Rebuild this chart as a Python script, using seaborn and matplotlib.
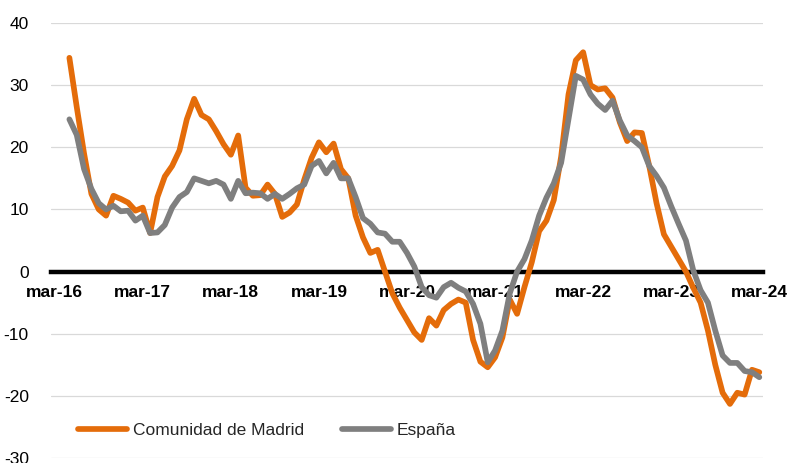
import matplotlib
matplotlib.use('Agg')
import matplotlib.pyplot as plt
import seaborn as sns
import pandas as pd

# month index: 0 = mar-16, series start in may-16 (index 2)
start_month = 2
tick_months = [0, 12, 24, 36, 48, 60, 72, 84, 96]
tick_labels = ['mar-16', 'mar-17', 'mar-18', 'mar-19', 'mar-20',
               'mar-21', 'mar-22', 'mar-23', 'mar-24']

madrid = [34.4, 26.5, 19.0, 12.5, 10.0, 9.0, 12.2, 11.7, 11.1, 9.8,
          10.3, 6.2, 12.0, 15.3, 17.0, 19.5, 24.5, 27.8, 25.2, 24.5,
          22.6, 20.5, 18.8, 21.9, 13.5, 12.2, 12.3, 14.0, 12.5, 8.8,
          9.5, 10.8, 14.8, 18.3, 20.8, 19.2, 20.6, 16.5, 15.0, 9.0,
          5.5, 3.0, 3.5, 0.0, -3.5, -5.8, -7.8, -9.8, -11.0, -7.5,
          -8.7, -6.2, -5.2, -4.5, -5.0, -11.0, -14.5, -15.4, -13.8, -10.6,
          -4.5, -6.8, -2.5, 1.5, 6.5, 8.2, 11.5, 18.5, 28.5, 34.0,
          35.3, 30.0, 29.3, 29.5, 28.0, 24.0, 21.0, 22.4, 22.3, 17.0,
          11.0, 6.0, 4.0, 2.0, 0.0, -2.6, -5.0, -9.5, -15.0, -19.5,
          -21.3, -19.5, -19.8, -15.8, -16.2]

espana = [24.5, 22.0, 16.5, 13.3, 11.0, 10.0, 10.6, 9.7, 9.8, 8.2,
          9.0, 6.2, 6.3, 7.5, 10.3, 12.0, 12.8, 15.0, 14.6, 14.2,
          14.6, 14.0, 11.7, 14.6, 12.6, 12.7, 12.6, 11.7, 12.5, 11.7,
          12.5, 13.4, 14.0, 17.0, 17.8, 15.8, 17.5, 15.0, 15.0, 12.0,
          8.6, 7.7, 6.3, 6.1, 4.8, 4.8, 3.0, 0.8, -2.5, -3.8,
          -4.2, -2.5, -1.8, -2.6, -3.2, -5.2, -8.4, -14.6, -12.7, -9.5,
          -3.5, 0.0, 2.0, 5.0, 9.0, 11.9, 14.2, 17.5, 24.5, 31.5,
          30.9, 28.5, 27.0, 26.0, 27.5, 24.3, 21.9, 21.0, 20.0, 17.0,
          15.4, 13.5, 10.5, 7.7, 5.0, 0.2, -3.0, -5.0, -9.5, -13.5,
          -14.7, -14.7, -16.0, -16.2, -17.0]

months = list(range(start_month, start_month + len(madrid)))
df = pd.DataFrame({'mes': months, 'Comunidad de Madrid': madrid, 'España': espana})

sns.set_theme(style='white')
plt.rcParams['font.family'] = ['Liberation Sans', 'DejaVu Sans']
plt.rcParams['axes.unicode_minus'] = False

fig = plt.figure(figsize=(7.9, 4.63), dpi=100)
ax = fig.add_axes([0.0646, 0.0108, 0.9012, 0.9395])

sns.lineplot(data=df, x='mes', y='Comunidad de Madrid', color='#E46C0A',
             linewidth=4.1, label='Comunidad de Madrid', ax=ax, zorder=3,
             solid_capstyle='round', solid_joinstyle='round')
sns.lineplot(data=df, x='mes', y='España', color='#7F7F7F',
             linewidth=4.1, label='España', ax=ax, zorder=4,
             solid_capstyle='round', solid_joinstyle='round')

ax.set_xlim(-0.5, 96.5)
ax.set_ylim(-30, 40)
ax.set_yticks(range(-30, 41, 10))
ax.set_xticks(tick_months)
ax.set_xticklabels(tick_labels)
ax.set_xlabel('')
ax.set_ylabel('')

ax.grid(axis='y', color='#D9D9D9', linewidth=0.9)
ax.grid(axis='x', visible=False)
for s in ['top', 'right', 'left']:
    ax.spines[s].set_visible(False)
ax.spines['bottom'].set_position(('data', 0))
ax.spines['bottom'].set_color('black')
ax.spines['bottom'].set_linewidth(3.2)
ax.spines['bottom'].set_zorder(2.6)

ax.tick_params(axis='x', length=0, pad=10, labelsize=12.5, colors='black')
ax.tick_params(axis='y', length=0, pad=16, labelsize=12.5, colors='black')
for lab in ax.get_xticklabels():
    lab.set_fontweight('bold')
ax.set_facecolor('white')

ax.legend(loc='center left', bbox_to_anchor=(0.038, 0.064), frameon=False,
          ncol=2, fontsize=12.5, handlelength=2.8, handletextpad=0.35,
          columnspacing=2.2, borderpad=0, borderaxespad=0)

fig.savefig('out.png', dpi=100, facecolor='white')
